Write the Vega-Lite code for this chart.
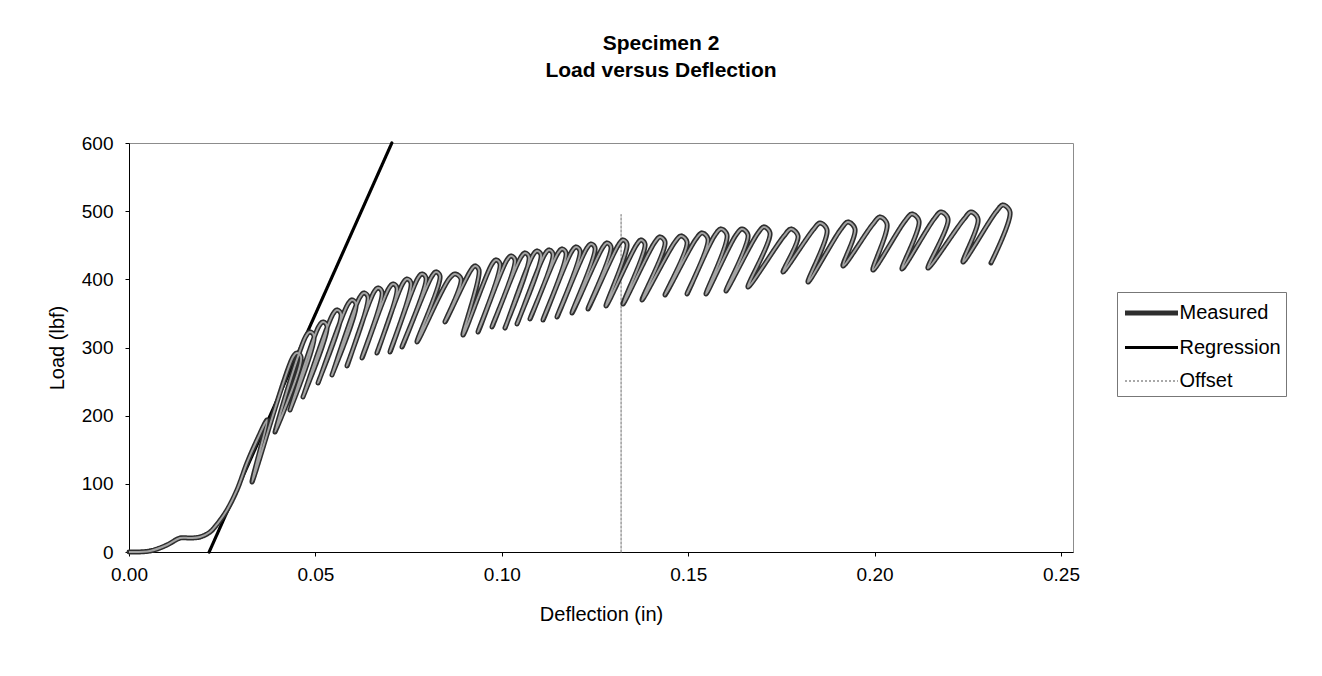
{
 "$schema": "https://vega.github.io/schema/vega-lite/v6.json",
 "width": 944, "height": 409,
 "autosize": "none",
 "padding": {"left": 129, "top": 143, "right": 249, "bottom": 124},
 "background": "white",
 "title": {"text": ["Specimen 2", "Load versus Deflection"], "font": "Liberation Sans", "fontSize": 21, "fontWeight": "bold", "color": "#000", "anchor": "middle", "frame": "group", "dx": 60, "offset": 53, "lineHeight": 27},
 "config": {
  "view": {"stroke": "#8c8c8c", "strokeWidth": 1},
  "axis": {"grid": false, "labelFont": "Liberation Sans", "titleFont": "Liberation Sans", "labelFontSize": 19, "titleFontSize": 20, "titleFontWeight": "normal", "labelColor": "#000", "titleColor": "#000", "domainColor": "#000", "tickColor": "#000", "tickSize": 4},
  "legend": {"orient": "none", "legendX": 988, "legendY": 149, "symbolType": "M-2,0H2", "symbolSize": 702, "symbolOffset": 13.5, "labelFont": "Liberation Sans", "labelFontSize": 20, "labelColor": "#000", "strokeColor": "#777", "padding": 5, "labelOffset": 12, "rowPadding": 9.5}
 },
 "data": {"values": [
  {"s":"Regression","i":0,"x":0.0215,"y":0},
  {"s":"Regression","i":1,"x":0.0705,"y":600},
  {"s":"Offset","i":0,"x":0.132,"y":0},
  {"s":"Offset","i":1,"x":0.132,"y":495},
  {"s":"Measured","i":0,"x":0,"y":0},
  {"s":"Measured","i":1,"x":0.00563,"y":1.5},
  {"s":"Measured","i":2,"x":0.01019,"y":10.3},
  {"s":"Measured","i":3,"x":0.01368,"y":20.5},
  {"s":"Measured","i":4,"x":0.01636,"y":20.5},
  {"s":"Measured","i":5,"x":0.01905,"y":22.0},
  {"s":"Measured","i":6,"x":0.02173,"y":29.3},
  {"s":"Measured","i":7,"x":0.02387,"y":42.5},
  {"s":"Measured","i":8,"x":0.02629,"y":61.6},
  {"s":"Measured","i":9,"x":0.02897,"y":91.0},
  {"s":"Measured","i":10,"x":0.03165,"y":130.6},
  {"s":"Measured","i":11,"x":0.03433,"y":164.3},
  {"s":"Measured","i":12,"x":0.03702,"y":193.6},
  {"s":"Measured","i":13,"x":0.03299,"y":102.7},
  {"s":"Measured","i":14,"x":0.04399,"y":286.1},
  {"s":"Measured","i":15,"x":0.04506,"y":291.9},
  {"s":"Measured","i":16,"x":0.04614,"y":286.1},
  {"s":"Measured","i":17,"x":0.03916,"y":176.0},
  {"s":"Measured","i":18,"x":0.04748,"y":316.9},
  {"s":"Measured","i":19,"x":0.04855,"y":322.7},
  {"s":"Measured","i":20,"x":0.04962,"y":316.9},
  {"s":"Measured","i":21,"x":0.04319,"y":208.3},
  {"s":"Measured","i":22,"x":0.05097,"y":331.5},
  {"s":"Measured","i":23,"x":0.05204,"y":337.4},
  {"s":"Measured","i":24,"x":0.05311,"y":331.5},
  {"s":"Measured","i":25,"x":0.04667,"y":227.4},
  {"s":"Measured","i":26,"x":0.05472,"y":349.1},
  {"s":"Measured","i":27,"x":0.05579,"y":355.0},
  {"s":"Measured","i":28,"x":0.05687,"y":349.1},
  {"s":"Measured","i":29,"x":0.05070,"y":247.9},
  {"s":"Measured","i":30,"x":0.05874,"y":363.8},
  {"s":"Measured","i":31,"x":0.05982,"y":369.7},
  {"s":"Measured","i":32,"x":0.06089,"y":363.8},
  {"s":"Measured","i":33,"x":0.05445,"y":259.7},
  {"s":"Measured","i":34,"x":0.06196,"y":374.1},
  {"s":"Measured","i":35,"x":0.06304,"y":379.9},
  {"s":"Measured","i":36,"x":0.06411,"y":374.1},
  {"s":"Measured","i":37,"x":0.05848,"y":272.9},
  {"s":"Measured","i":38,"x":0.06572,"y":381.4},
  {"s":"Measured","i":39,"x":0.06679,"y":387.3},
  {"s":"Measured","i":40,"x":0.06787,"y":381.4},
  {"s":"Measured","i":41,"x":0.06250,"y":284.6},
  {"s":"Measured","i":42,"x":0.06974,"y":387.3},
  {"s":"Measured","i":43,"x":0.07082,"y":393.2},
  {"s":"Measured","i":44,"x":0.07189,"y":387.3},
  {"s":"Measured","i":45,"x":0.06652,"y":291.9},
  {"s":"Measured","i":46,"x":0.07350,"y":394.6},
  {"s":"Measured","i":47,"x":0.07457,"y":400.5},
  {"s":"Measured","i":48,"x":0.07564,"y":394.6},
  {"s":"Measured","i":49,"x":0.07001,"y":293.4},
  {"s":"Measured","i":50,"x":0.07752,"y":402.0},
  {"s":"Measured","i":51,"x":0.07859,"y":407.8},
  {"s":"Measured","i":52,"x":0.07967,"y":402.0},
  {"s":"Measured","i":53,"x":0.07323,"y":300.7},
  {"s":"Measured","i":54,"x":0.08128,"y":404.9},
  {"s":"Measured","i":55,"x":0.08235,"y":410.8},
  {"s":"Measured","i":56,"x":0.08342,"y":404.9},
  {"s":"Measured","i":57,"x":0.07725,"y":308.1},
  {"s":"Measured","i":58,"x":0.08584,"y":400.5},
  {"s":"Measured","i":59,"x":0.08745,"y":407.8},
  {"s":"Measured","i":60,"x":0.08906,"y":400.5},
  {"s":"Measured","i":61,"x":0.08476,"y":337.4},
  {"s":"Measured","i":62,"x":0.09174,"y":413.7},
  {"s":"Measured","i":63,"x":0.09281,"y":419.6},
  {"s":"Measured","i":64,"x":0.09388,"y":413.7},
  {"s":"Measured","i":65,"x":0.08959,"y":318.3},
  {"s":"Measured","i":66,"x":0.09737,"y":422.5},
  {"s":"Measured","i":67,"x":0.09845,"y":428.4},
  {"s":"Measured","i":68,"x":0.09952,"y":422.5},
  {"s":"Measured","i":69,"x":0.09362,"y":322.7},
  {"s":"Measured","i":70,"x":0.10139,"y":428.4},
  {"s":"Measured","i":71,"x":0.10247,"y":434.2},
  {"s":"Measured","i":72,"x":0.10354,"y":428.4},
  {"s":"Measured","i":73,"x":0.09737,"y":330.1},
  {"s":"Measured","i":74,"x":0.10515,"y":432.8},
  {"s":"Measured","i":75,"x":0.10622,"y":438.6},
  {"s":"Measured","i":76,"x":0.10730,"y":432.8},
  {"s":"Measured","i":77,"x":0.10086,"y":328.6},
  {"s":"Measured","i":78,"x":0.10837,"y":435.7},
  {"s":"Measured","i":79,"x":0.10944,"y":441.6},
  {"s":"Measured","i":80,"x":0.11052,"y":435.7},
  {"s":"Measured","i":81,"x":0.10408,"y":334.5},
  {"s":"Measured","i":82,"x":0.11159,"y":437.2},
  {"s":"Measured","i":83,"x":0.11266,"y":443.0},
  {"s":"Measured","i":84,"x":0.11373,"y":437.2},
  {"s":"Measured","i":85,"x":0.10756,"y":341.8},
  {"s":"Measured","i":86,"x":0.11507,"y":438.6},
  {"s":"Measured","i":87,"x":0.11615,"y":444.5},
  {"s":"Measured","i":88,"x":0.11722,"y":438.6},
  {"s":"Measured","i":89,"x":0.11105,"y":340.3},
  {"s":"Measured","i":90,"x":0.11883,"y":441.6},
  {"s":"Measured","i":91,"x":0.11991,"y":447.4},
  {"s":"Measured","i":92,"x":0.12098,"y":441.6},
  {"s":"Measured","i":93,"x":0.11481,"y":344.7},
  {"s":"Measured","i":94,"x":0.12285,"y":446.0},
  {"s":"Measured","i":95,"x":0.12393,"y":451.8},
  {"s":"Measured","i":96,"x":0.12500,"y":446.0},
  {"s":"Measured","i":97,"x":0.11883,"y":350.6},
  {"s":"Measured","i":98,"x":0.12715,"y":447.4},
  {"s":"Measured","i":99,"x":0.12822,"y":453.3},
  {"s":"Measured","i":100,"x":0.12929,"y":447.4},
  {"s":"Measured","i":101,"x":0.12312,"y":356.5},
  {"s":"Measured","i":102,"x":0.13144,"y":451.8},
  {"s":"Measured","i":103,"x":0.13251,"y":457.7},
  {"s":"Measured","i":104,"x":0.13358,"y":451.8},
  {"s":"Measured","i":105,"x":0.12795,"y":360.9},
  {"s":"Measured","i":106,"x":0.13627,"y":451.8},
  {"s":"Measured","i":107,"x":0.13734,"y":457.7},
  {"s":"Measured","i":108,"x":0.13841,"y":451.8},
  {"s":"Measured","i":109,"x":0.13251,"y":363.8},
  {"s":"Measured","i":110,"x":0.14109,"y":454.8},
  {"s":"Measured","i":111,"x":0.14244,"y":462.1},
  {"s":"Measured","i":112,"x":0.14378,"y":454.8},
  {"s":"Measured","i":113,"x":0.13761,"y":369.7},
  {"s":"Measured","i":114,"x":0.14646,"y":454.8},
  {"s":"Measured","i":115,"x":0.14807,"y":463.6},
  {"s":"Measured","i":116,"x":0.14968,"y":454.8},
  {"s":"Measured","i":117,"x":0.14378,"y":377.0},
  {"s":"Measured","i":118,"x":0.15209,"y":459.2},
  {"s":"Measured","i":119,"x":0.15370,"y":468.0},
  {"s":"Measured","i":120,"x":0.15531,"y":459.2},
  {"s":"Measured","i":121,"x":0.14968,"y":378.5},
  {"s":"Measured","i":122,"x":0.15719,"y":465.0},
  {"s":"Measured","i":123,"x":0.15880,"y":473.8},
  {"s":"Measured","i":124,"x":0.16041,"y":465.0},
  {"s":"Measured","i":125,"x":0.15478,"y":378.5},
  {"s":"Measured","i":126,"x":0.16282,"y":465.0},
  {"s":"Measured","i":127,"x":0.16443,"y":473.8},
  {"s":"Measured","i":128,"x":0.16604,"y":465.0},
  {"s":"Measured","i":129,"x":0.16014,"y":382.9},
  {"s":"Measured","i":130,"x":0.16872,"y":468.0},
  {"s":"Measured","i":131,"x":0.17033,"y":476.8},
  {"s":"Measured","i":132,"x":0.17194,"y":468.0},
  {"s":"Measured","i":133,"x":0.16604,"y":388.8},
  {"s":"Measured","i":134,"x":0.17570,"y":463.6},
  {"s":"Measured","i":135,"x":0.17758,"y":473.8},
  {"s":"Measured","i":136,"x":0.17945,"y":463.6},
  {"s":"Measured","i":137,"x":0.17543,"y":410.8},
  {"s":"Measured","i":138,"x":0.18348,"y":472.4},
  {"s":"Measured","i":139,"x":0.18536,"y":482.6},
  {"s":"Measured","i":140,"x":0.18723,"y":472.4},
  {"s":"Measured","i":141,"x":0.18214,"y":396.1},
  {"s":"Measured","i":142,"x":0.19099,"y":473.8},
  {"s":"Measured","i":143,"x":0.19286,"y":484.1},
  {"s":"Measured","i":144,"x":0.19474,"y":473.8},
  {"s":"Measured","i":145,"x":0.19152,"y":419.6},
  {"s":"Measured","i":146,"x":0.19957,"y":481.2},
  {"s":"Measured","i":147,"x":0.20145,"y":491.4},
  {"s":"Measured","i":148,"x":0.20333,"y":481.2},
  {"s":"Measured","i":149,"x":0.19957,"y":413.7},
  {"s":"Measured","i":150,"x":0.20815,"y":485.6},
  {"s":"Measured","i":151,"x":0.21003,"y":495.8},
  {"s":"Measured","i":152,"x":0.21191,"y":485.6},
  {"s":"Measured","i":153,"x":0.20735,"y":415.2},
  {"s":"Measured","i":154,"x":0.21594,"y":488.5},
  {"s":"Measured","i":155,"x":0.21781,"y":498.8},
  {"s":"Measured","i":156,"x":0.21969,"y":488.5},
  {"s":"Measured","i":157,"x":0.21432,"y":416.6},
  {"s":"Measured","i":158,"x":0.22398,"y":488.5},
  {"s":"Measured","i":159,"x":0.22586,"y":498.8},
  {"s":"Measured","i":160,"x":0.22774,"y":488.5},
  {"s":"Measured","i":161,"x":0.22371,"y":425.4},
  {"s":"Measured","i":162,"x":0.23257,"y":498.8},
  {"s":"Measured","i":163,"x":0.23444,"y":509.0},
  {"s":"Measured","i":164,"x":0.23632,"y":498.8},
  {"s":"Measured","i":165,"x":0.23122,"y":424.0}
 ]},
 "layer": [
  {
   "mark": {"type": "line", "interpolate": "catmull-rom", "strokeJoin": "round", "strokeCap": "round"},
   "encoding": {
    "x": {"field": "x", "type": "quantitative", "scale": {"domain": [0, 0.25322], "nice": false, "zero": false}, "axis": {"values": [0, 0.05, 0.1, 0.15, 0.2, 0.25], "format": ".2f", "title": "Deflection (in)", "labelFlush": false, "labelPadding": 9, "titlePadding": 20}},
    "y": {"field": "y", "type": "quantitative", "scale": {"domain": [0, 600], "nice": false}, "axis": {"values": [0, 100, 200, 300, 400, 500, 600], "title": "Load (lbf)", "labelPadding": 12, "titlePadding": 14}},
    "color": {"field": "s", "type": "nominal", "scale": {"domain": ["Measured", "Regression", "Offset"], "range": ["#2e2e2e", "#000000", "#8c8c8c"]}, "legend": {"title": null}},
    "strokeWidth": {"field": "s", "type": "nominal", "scale": {"domain": ["Measured", "Regression", "Offset"], "range": [5, 1.3, 1.2]}, "legend": {"title": null}},
    "strokeDash": {"field": "s", "type": "nominal", "scale": {"domain": ["Measured", "Regression", "Offset"], "range": [[1, 0], [1, 0], [2, 2]]}, "legend": {"title": null}},
    "order": {"field": "i", "type": "quantitative"}
   }
  },
  {
   "transform": [{"filter": "datum.s === 'Measured'"}],
   "mark": {"type": "line", "interpolate": "catmull-rom", "color": "#a3a3a3", "strokeWidth": 2, "strokeJoin": "round"},
   "encoding": {
    "x": {"field": "x", "type": "quantitative"},
    "y": {"field": "y", "type": "quantitative"},
    "order": {"field": "i", "type": "quantitative"}
   }
  }
 ]
}
